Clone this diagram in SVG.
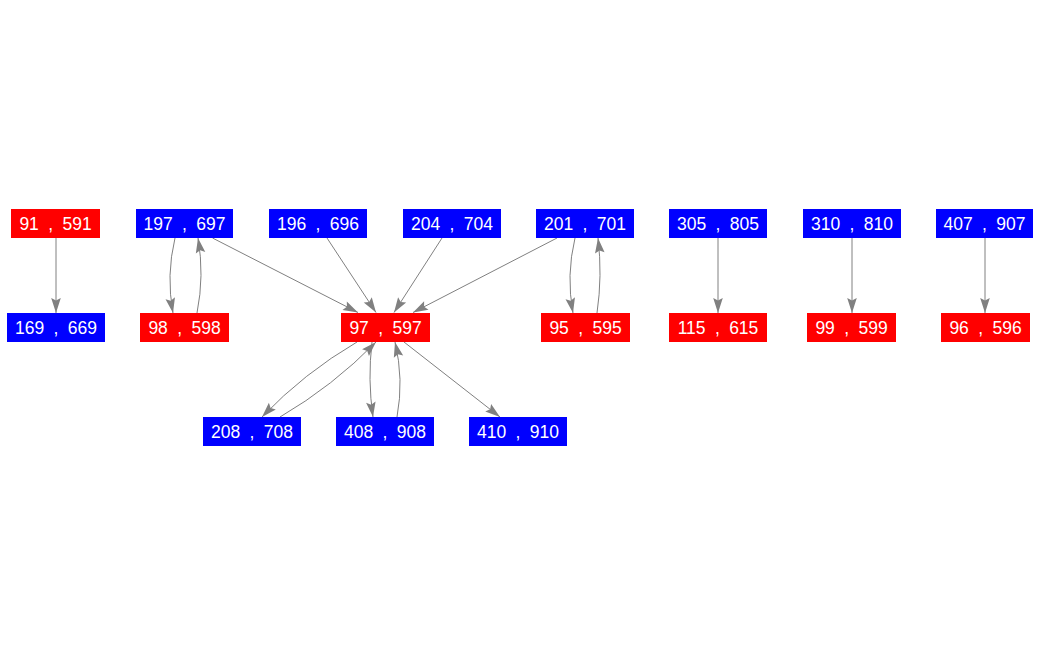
<svg xmlns="http://www.w3.org/2000/svg" width="1043" height="656" viewBox="0 0 1043 656">
<style>
.r{fill:#ff0000}
.b{fill:#0000ff}
text{font-family:"Liberation Sans",Arial,sans-serif;font-size:17.5px;word-spacing:4.5px;fill:#ffffff;text-anchor:middle}
.e{fill:none;stroke:#808080;stroke-width:1;marker-end:url(#ah)}
</style>
<defs>
<marker id="ah" markerUnits="userSpaceOnUse" markerWidth="20" markerHeight="12" viewBox="-16 -6 17 12" refX="0" refY="0" orient="auto">
<path d="M0,0 L-15,-4.8 L-12.5,0 L-15,4.8 Z" fill="#808080"/>
</marker>
</defs>
<rect width="1043" height="656" fill="#ffffff"/>
<g id="edges">
<path class="e" d="M56,238 L56,313"/>
<path class="e" d="M718,238 L718,313"/>
<path class="e" d="M852,238 L852,313"/>
<path class="e" d="M985,238 L985,313"/>
<path class="e" d="M175,238 Q166,275.5 173,313"/>
<path class="e" d="M197,313 Q204.5,275.5 198,238"/>
<path class="e" d="M575,238 Q566,275.5 573,313"/>
<path class="e" d="M597,313 Q602.5,275.5 598,238"/>
<path class="e" d="M212.5,238 L358,312.5"/>
<path class="e" d="M327,238 L376,312.5"/>
<path class="e" d="M442,238 L394,312.5"/>
<path class="e" d="M557,238 L413,312.5"/>
<path class="e" d="M372,342 Q367.5,379.5 373,417"/>
<path class="e" d="M397,417 Q404,379.5 395,342"/>
<path class="e" d="M357,342 Q304,373 262,417"/>
<path class="e" d="M280,417 Q333,386 376,342"/>
<path class="e" d="M404,342 L500,417"/>
</g>
<g id="n91"><rect class="r" x="11" y="209" width="89" height="29"/><text x="55.5" y="229.5">91 , 591</text></g>
<g id="n197"><rect class="b" x="136" y="209" width="97" height="29"/><text x="184.5" y="229.5">197 , 697</text></g>
<g id="n196"><rect class="b" x="269" y="209" width="98" height="29"/><text x="318" y="229.5">196 , 696</text></g>
<g id="n204"><rect class="b" x="403" y="209" width="98" height="29"/><text x="452" y="229.5">204 , 704</text></g>
<g id="n201"><rect class="b" x="536" y="209" width="98" height="29"/><text x="585" y="229.5">201 , 701</text></g>
<g id="n305"><rect class="b" x="669" y="209" width="98" height="29"/><text x="718" y="229.5">305 , 805</text></g>
<g id="n310"><rect class="b" x="803" y="209" width="98" height="29"/><text x="852" y="229.5">310 , 810</text></g>
<g id="n407"><rect class="b" x="936" y="209" width="97" height="29"/><text x="984.5" y="229.5">407 , 907</text></g>
<g id="n169"><rect class="b" x="7" y="313" width="98" height="29"/><text x="56" y="333.5">169 , 669</text></g>
<g id="n98"><rect class="r" x="140" y="313" width="89" height="29"/><text x="184.5" y="333.5">98 , 598</text></g>
<g id="n97"><rect class="r" x="341" y="313" width="89" height="29"/><text x="385.5" y="333.5">97 , 597</text></g>
<g id="n95"><rect class="r" x="541" y="313" width="89" height="29"/><text x="585.5" y="333.5">95 , 595</text></g>
<g id="n115"><rect class="r" x="669" y="313" width="98" height="29"/><text x="718" y="333.5">115 , 615</text></g>
<g id="n99"><rect class="r" x="807" y="313" width="89" height="29"/><text x="851.5" y="333.5">99 , 599</text></g>
<g id="n96"><rect class="r" x="941" y="313" width="89" height="29"/><text x="985.5" y="333.5">96 , 596</text></g>
<g id="n208"><rect class="b" x="203" y="417" width="98" height="29"/><text x="252" y="437.5">208 , 708</text></g>
<g id="n408"><rect class="b" x="336" y="417" width="98" height="29"/><text x="385" y="437.5">408 , 908</text></g>
<g id="n410"><rect class="b" x="469" y="417" width="98" height="29"/><text x="518" y="437.5">410 , 910</text></g>
</svg>
